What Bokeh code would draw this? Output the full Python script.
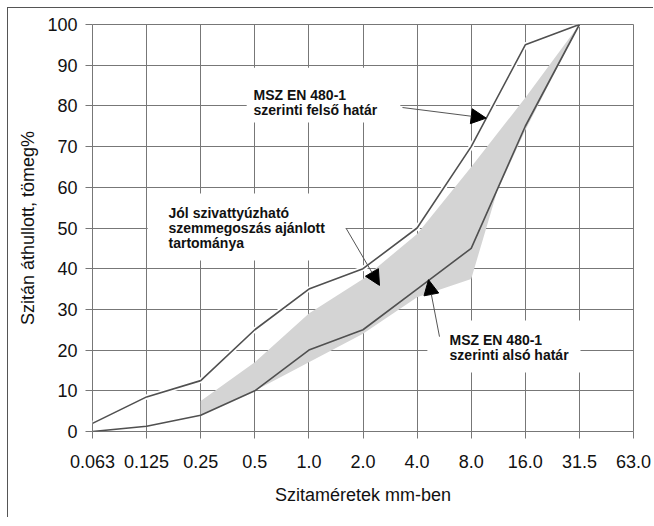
from bokeh.plotting import figure
from bokeh.models import Range1d, FixedTicker, Arrow, NormalHead, Label, BoxAnnotation
from bokeh.embed import file_html
from bokeh.resources import INLINE

# ---- data ----
sieve_labels = ["0.063", "0.125", "0.25", "0.5", "1.0", "2.0", "4.0", "8.0", "16.0", "31.5", "63.0"]
sieve_pos = list(range(len(sieve_labels)))
upper_limit = [2, 8.5, 12.5, 25, 35, 40, 50, 70, 95, 100]      # felső határ
lower_limit = [0, 1.3, 4, 10, 20, 25, 35, 45, 75, 100]         # alsó határ
band_x = [2, 3, 4, 5, 6, 7, 8, 9, 8, 7.48, 7, 6, 5, 4, 3, 2]
band_y = [7.5, 17, 29, 37.5, 48.5, 65, 82, 100, 74, 59, 37.5, 33, 24, 17, 10, 4]
y_ticks = list(range(0, 101, 10))

GRID = "#777777"
LINE = "#505050"
FONT = "Liberation Sans"

p = figure(width=646, height=510, output_backend="svg", toolbar_location=None,
           x_range=Range1d(0, 10), y_range=Range1d(0, 100),
           min_border_left=84, min_border_right=21, min_border_top=16, min_border_bottom=87)
p.styles = {"margin-top": "7px", "margin-left": "7px",
            "border-top": "1px solid #555555", "border-left": "1px solid #555555"}
p.background_fill_color = "white"
p.border_fill_color = "white"
p.outline_line_color = GRID
p.outline_line_width = 1

for ax in (p.xaxis[0], p.yaxis[0]):
    ax.axis_line_color = None
    ax.major_tick_line_color = GRID
    ax.major_tick_out = 7
    ax.major_tick_in = 0
    ax.minor_tick_line_color = None
    ax.major_label_text_font = FONT
    ax.major_label_text_font_size = "18px"
    ax.major_label_text_color = "#111111"
    ax.axis_label_text_font = FONT
    ax.axis_label_text_font_size = "18px"
    ax.axis_label_text_font_style = "normal"
    ax.axis_label_text_color = "#111111"

p.xaxis.ticker = FixedTicker(ticks=sieve_pos)
p.xaxis.major_label_overrides = {i: s for i, s in zip(sieve_pos, sieve_labels)}
p.xaxis.major_label_standoff = 16
p.xaxis.axis_label = "Szitaméretek mm-ben"
p.xaxis.axis_label_standoff = 14

p.yaxis.ticker = FixedTicker(ticks=y_ticks)
p.yaxis.major_label_standoff = 8
p.yaxis.axis_label = "Szitán áthullott, tömeg%"
p.yaxis.axis_label_standoff = 6

p.xgrid.ticker = FixedTicker(ticks=sieve_pos)
p.ygrid.ticker = FixedTicker(ticks=y_ticks)
for g in (p.xgrid[0], p.ygrid[0]):
    g.grid_line_color = GRID
    g.grid_line_width = 1

# recommended range band
p.patch(band_x, band_y, fill_color="#d4d4d4", line_color=None)

# upper / lower limits
n = len(upper_limit)
p.line(sieve_pos[:n], upper_limit, line_color="white", line_width=5)
p.line(sieve_pos[:n], upper_limit, line_color=LINE, line_width=1.6)
p.line(sieve_pos[:n], lower_limit, line_color=LINE, line_width=1.6)

# white boxes behind annotation texts
for l, r, b, t in [(2.85, 5.69, 75.9, 89.4), (1.02, 4.68, 42.0, 58.5), (6.19, 9.02, 14.5, 27.3)]:
    p.add_layout(BoxAnnotation(left=l, right=r, bottom=b, top=t, fill_color="white",
                               fill_alpha=1, line_color=None))

def add_text(x, y, txt):
    p.add_layout(Label(x=x, y=y, text=txt, text_font=FONT, text_font_size="14px",
                       text_font_style="bold", text_color="#111111",
                       text_baseline="alphabetic", text_align="left"))

add_text(2.976, 82.8, "MSZ EN 480-1")
add_text(2.976, 79.1, "szerinti felső határ")
add_text(1.405, 53.6, "Jól szivattyúzható")
add_text(1.405, 49.9, "szemmegoszás ajánlott")
add_text(1.405, 46.2, "tartománya")
add_text(6.60, 22.4, "MSZ EN 480-1")
add_text(6.60, 18.7, "szerinti alsó határ")

def add_arrow(xs, ys, xe, ye):
    p.add_layout(Arrow(end=NormalHead(size=15, fill_color="black", line_color="black"),
                       x_start=xs, y_start=ys, x_end=xe, y_end=ye,
                       line_color="#555555", line_width=1))

add_arrow(5.73, 79.6, 7.277, 77.0)
add_arrow(4.689, 49.9, 5.305, 35.9)
add_arrow(6.414, 23.3, 6.211, 37.3)

open("out.html", "w").write(file_html(p, INLINE))
